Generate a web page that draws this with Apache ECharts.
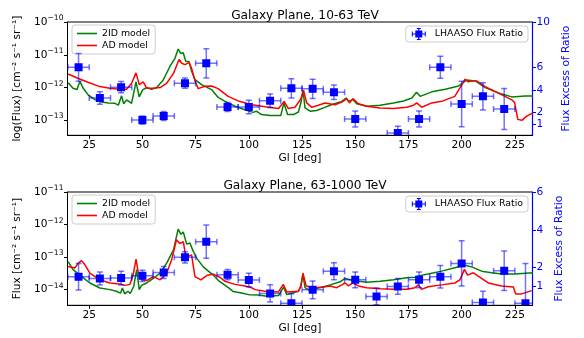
<!DOCTYPE html>
<html><head><meta charset="utf-8">
<script src="https://cdn.jsdelivr.net/npm/echarts@6/dist/echarts.min.js"></script>
<style>html,body{margin:0;padding:0;background:#fff}#c{width:584px;height:338px}</style>
</head><body><div id="c"></div>
<script>
// ---------- data ----------
const xTicks = [25, 50, 75, 100, 125, 150, 175, 200, 225];

// Top panel (10-63 TeV) models
const top2IDx = [15.1,17.4,19.3,20.6,22.2,24.5,27.7,30.8,34,37.1,38.7,40.2,41.2,42.6,44.9,47,48.5,50.1,52,54.3,56.7,59.8,62.9,65.3,66.8,68,69.2,70.4,71.9,73.1,74.7,77.8,82.5,85.6,88.8,93.5,98.2,102,103.5,106,110,115,116.5,118.2,121,123.3,124.5,125.5,126.4,128.8,131.9,135.1,138.2,141.3,143.7,145.7,146.8,148.9,150.7,155.4,161.7,168,172.7,176.6,178.8,180.5,186,192.3,198.6,202.5,206.4,211.1,217.3,223.6,229.9,233.5];
const top2IDy = [1.4e-12,9.5e-13,8.7e-13,1.55e-12,9.5e-13,6.0e-13,4.3e-13,3.6e-13,3.4e-13,3.3e-13,2.9e-13,5.6e-13,3.2e-13,4.2e-13,3.3e-13,1.5e-12,5.2e-13,8.5e-13,1.0e-12,8.9e-13,1.0e-12,1.7e-12,4.4e-12,7.8e-12,1.5e-11,1.1e-11,1.15e-11,6.2e-12,6.2e-12,3.2e-12,1.75e-12,1.23e-12,8.7e-13,5.0e-13,3.8e-13,2.7e-13,2.1e-13,1.75e-13,1.9e-13,1.5e-13,1.4e-13,1.4e-13,3.4e-13,1.5e-13,1.5e-13,1.8e-13,3.5e-13,8.3e-13,2.4e-13,1.9e-13,2.0e-13,2.4e-13,2.9e-13,3.4e-13,3.8e-13,4.8e-13,3.8e-13,4.3e-13,3.2e-13,2.7e-13,2.9e-13,3.4e-13,3.9e-13,4.8e-13,7.2e-13,5.4e-13,7.4e-13,8.9e-13,1.12e-12,1.7e-12,1.6e-12,1.0e-12,6.8e-13,5.2e-13,5.5e-13,5.5e-13];
const topADx = [15.1,19.1,23.8,30,34.7,39.4,42.6,44.9,47,48.5,50.4,52,55.1,58.3,61.4,64.6,67.2,68.5,70,71.9,73.1,74.7,76.2,79.4,82.5,85.6,90.3,95.5,101.5,107.6,114,116.6,118.5,121.7,124.4,125.7,127.2,129.6,132.7,135.8,140.5,143.7,146,147.3,148.9,151.5,155.4,161.7,168,174.2,177.4,178.9,181.2,186,190.6,196.8,199.2,201.6,203.1,205.4,207,211.1,217.3,223.6,224.9,226.4,228.3,230.6,233.5];
const topADy = [2.6e-12,2.0e-12,1.5e-12,1.07e-12,9.5e-13,8.9e-13,8.9e-13,1.35e-12,2.8e-12,1.23e-12,1.5e-12,9.5e-13,9.5e-13,1.0e-12,1.35e-12,2.7e-12,7.2e-12,5.5e-12,5.0e-12,5.8e-12,3.9e-12,1.6e-12,9.3e-13,1.1e-12,1.12e-12,9.3e-13,5.4e-13,3.8e-13,3.0e-13,2.6e-13,2.3e-13,3.8e-13,2.3e-13,2.5e-13,4.4e-13,8.3e-13,3.4e-13,2.5e-13,2.9e-13,3.4e-13,3.0e-13,3.6e-13,4.6e-13,3.4e-13,4.6e-13,3.2e-13,2.7e-13,2.4e-13,2.3e-13,2.5e-13,2.9e-13,3.4e-13,2.5e-13,3.4e-13,3.8e-13,5.4e-13,9.8e-13,1.8e-12,1.5e-12,1.6e-12,1.6e-12,1.07e-12,6.8e-13,4.2e-13,3.5e-13,1.07e-13,1.0e-13,1.35e-13,1.7e-13];

// Bottom panel (63-1000 TeV) models
const bot2IDx = [15.1,17.4,20.6,25.3,30,34.7,37.8,39.7,40.6,41.7,43.2,44.3,45.9,47.3,48.5,49.6,52,55.1,58.3,61.4,64.6,66.8,68.1,69.2,70.8,72.3,73.9,75.5,78.6,81,83.3,85.7,90.4,92.7,96.6,100.5,104.5,108.4,114,116.3,117.8,123.3,124.4,125.4,126.4,128.8,133.5,138.2,142.9,145.2,149.2,155.4,161.7,168,174.2,178.1,179.2,184.3,190.6,196.8,201.5,204.7,209.4,214.1,218.8,225.1,233.5];
const bot2IDy = [7.2e-14,4.1e-14,2.8e-14,1.6e-14,1.12e-14,1.0e-14,8.9e-15,7.8e-15,1.12e-14,7.4e-15,8.9e-15,7.6e-15,1.26e-14,4.1e-14,1.0e-14,1.35e-14,1.6e-14,2.2e-14,3.2e-14,6.5e-14,1.66e-13,7.2e-13,5.0e-13,5.9e-13,2.5e-13,2.7e-13,1.5e-13,9.3e-14,5.0e-14,3.7e-14,2.8e-14,1.9e-14,1.15e-14,8.7e-15,7.9e-15,6.9e-15,6.8e-15,6.3e-15,6.6e-15,1.2e-14,7.1e-15,8.9e-15,1.26e-14,3.0e-14,1.15e-14,9.3e-15,1.15e-14,1.4e-14,1.74e-14,2.2e-14,1.9e-14,1.7e-14,1.8e-14,2.0e-14,2.3e-14,2.4e-14,2.6e-14,3.0e-14,3.7e-14,4.7e-14,5.6e-14,5.0e-14,3.7e-14,3.3e-14,3.0e-14,3.0e-14,3.3e-14];
const botADx = [15.1,18.2,19.9,21.4,23,25.3,30,34.7,39.4,41.7,44.1,45.6,47,48,49.6,52,55.1,58.3,61.4,63.7,66,67.6,69.2,70.2,71.5,73.1,74.7,77.5,80.2,83.3,86.4,88.8,93.5,98.2,101.3,102.9,107.6,113.9,116.2,117.8,123.3,124.5,125.5,126.9,130.4,135.1,138.2,141.3,143.7,145.2,146.8,148.9,151.5,155.4,161.7,168,174.2,178.1,179.7,181.2,184.3,190.6,196.8,199.2,201.3,202.8,205.5,207.1,212.5,218.8,224.3,225.4,228.2,232.9];
const botADy = [5.1e-14,4.6e-14,6.5e-14,7.8e-14,5.8e-14,3.2e-14,2.0e-14,1.6e-14,1.5e-14,1.35e-14,1.45e-14,2.75e-14,8.7e-14,3.5e-14,2.0e-14,1.9e-14,2.5e-14,2.0e-14,3.2e-14,8.1e-14,3.4e-13,2.6e-13,3.0e-13,1.26e-13,1.05e-13,1.17e-13,2.5e-14,2.0e-14,2.7e-14,3.0e-14,2.4e-14,1.8e-14,1.45e-14,1.3e-14,1.15e-14,1.0e-14,8.9e-15,8.5e-15,1.45e-14,8.5e-15,8.9e-15,1.3e-14,3.2e-14,1.3e-14,1.15e-14,1.2e-14,1.3e-14,1.15e-14,1.4e-14,1.6e-14,1.3e-14,1.6e-14,1.3e-14,1.15e-14,1.07e-14,1.02e-14,1.02e-14,1.15e-14,1.4e-14,1.02e-14,1.23e-14,1.4e-14,1.6e-14,2.0e-14,4.2e-14,2.8e-14,3.3e-14,2.8e-14,1.6e-14,1.3e-14,1.2e-14,7.4e-15,7.4e-15,9.3e-15];

// LHAASO flux ratio points (x, ratio, ratio error); x error is +-5 deg
const topPtX = [20,30,40,50,60,70,80,90,100,110,120,130,140,150,170,180,190,200,210,220];
const topPtV = [6.0,3.3,4.25,1.34,1.7,4.6,6.35,2.5,2.5,3.05,4.15,4.1,3.8,1.44,0.2,1.44,6.0,2.76,3.44,2.32];
const topPtE = [1.23,0.55,0.5,0.37,0.4,0.45,1.3,0.4,0.6,0.6,0.85,0.85,0.65,0.7,0.6,0.7,0.97,2.0,1.2,1.8];
const botPtX = [20,30,40,50,60,70,80,90,100,110,120,130,140,150,160,170,180,190,200,210,220,230];
const botPtV = [1.51,1.42,1.44,1.56,1.74,2.54,3.37,1.62,1.34,0.63,0.11,0.82,1.8,1.35,0.47,1.0,1.35,1.51,2.22,0.15,1.83,0.11];
const botPtE = [0.7,0.34,0.36,0.3,0.32,0.3,0.88,0.27,0.36,0.46,0.5,0.47,0.45,0.42,0.44,0.42,0.42,0.6,1.2,0.6,1.05,2.1];
const xErr = 5;

const topRatioTicks = [1, 2, 4, 6, 10];
const botRatioTicks = [1, 2, 4, 6];
const topFluxTicks = [1e-13, 1e-12, 1e-11, 1e-10];
const botFluxTicks = [1e-14, 1e-13, 1e-12, 1e-11];

// ---------- chart ----------
const FONT = 'DejaVu Sans';
const BLUE = '#0000ff';
const TICK_FS = 10.6;
const LEG_FS = 9.4;
const zip = (a, b) => a.map((v, i) => [v, b[i]]);
const zip3 = (a, b, c) => a.map((v, i) => [v, b[i], xErr, c[i]]);

function supLabel(v) {
  const e = Math.round(Math.log10(v));
  return '{a|10}{b|\u2212' + Math.abs(e) + '}';
}
const supRich = {
  a: { fontSize: TICK_FS, fontFamily: FONT, color: '#000' },
  b: { fontSize: 7.6, fontFamily: FONT, color: '#000', padding: [0, 0, 8, 0] }
};

function renderErr(params, api) {
  const x = api.value(0), y = api.value(1), xe = api.value(2), ye = api.value(3);
  const c = api.coord([x, y]);
  const l = api.coord([x - xe, y]), r = api.coord([x + xe, y]);
  const t = api.coord([x, y + ye]), b = api.coord([x, y - ye]);
  const cap = 3;
  const st = { stroke: 'rgba(0,0,255,0.55)', lineWidth: 1.5 };
  const L = (x1, y1, x2, y2) => ({ type: 'line', shape: { x1, y1, x2, y2 }, style: st });
  return {
    type: 'group',
    children: [
      L(l[0], c[1], r[0], c[1]),
      L(l[0], c[1] - cap, l[0], c[1] + cap),
      L(r[0], c[1] - cap, r[0], c[1] + cap),
      L(c[0], t[1], c[0], b[1]),
      L(c[0] - cap, t[1], c[0] + cap, t[1]),
      L(c[0] - cap, b[1], c[0] + cap, b[1]),
      { type: 'rect', shape: { x: c[0] - 4, y: c[1] - 4, width: 8, height: 8 }, style: { fill: BLUE } }
    ]
  };
}

const grids = [
  { left: 67.5, top: 22, width: 465, height: 113.3 },
  { left: 67.5, top: 192, width: 465, height: 113.3 }
];

function xAxis(i) {
  return {
    type: 'value', gridIndex: i, min: 14.8, max: 233.3,
    name: 'Gl [deg]', nameLocation: 'middle', nameGap: 17,
    nameTextStyle: { fontFamily: FONT, fontSize: TICK_FS, color: '#000' },
    axisLine: { show: true, lineStyle: { color: '#000', width: 1 } },
    axisTick: { show: true, length: 3.5, customValues: xTicks, lineStyle: { color: '#000' } },
    axisLabel: { customValues: xTicks, fontFamily: FONT, fontSize: TICK_FS, color: '#000', margin: 4 },
    splitLine: { show: false }
  };
}
function fluxAxis(i, min, max, ticks, name) {
  return {
    type: 'log', gridIndex: i, min, max, position: 'left',
    name, nameLocation: 'middle', nameGap: 42, nameRotate: 90,
    nameTextStyle: { fontFamily: FONT, fontSize: TICK_FS, color: '#000' },
    axisLine: { show: true, lineStyle: { color: '#000', width: 1 } },
    axisTick: { show: true, length: 3.5, customValues: ticks, lineStyle: { color: '#000' } },
    axisLabel: { customValues: ticks, formatter: supLabel, rich: supRich, margin: 4 },
    splitLine: { show: false }, minorTick: { show: false }
  };
}
function ratioAxis(i, max, ticks) {
  return {
    type: 'value', gridIndex: i, min: 0, max, position: 'right',
    name: 'Flux Excess of Ratio', nameLocation: 'middle', nameGap: 21, nameRotate: 90,
    nameTextStyle: { fontFamily: FONT, fontSize: TICK_FS, color: BLUE },
    axisLine: { show: true, lineStyle: { color: BLUE, width: 1.2 } },
    axisTick: { show: true, length: 3.5, customValues: ticks, lineStyle: { color: BLUE } },
    axisLabel: { customValues: ticks, fontFamily: FONT, fontSize: TICK_FS, color: BLUE, margin: 4 },
    splitLine: { show: false }
  };
}

const lineSeries = (name, xs, ys, color, xi, yi) => ({
  name, type: 'line', xAxisIndex: xi, yAxisIndex: yi, data: zip(xs, ys),
  symbol: 'none', lineStyle: { color, width: 1.5 }, itemStyle: { color }, z: 2
});
const errSeries = (xs, vs, es, xi, yi) => ({
  name: 'LHAASO Flux Ratio', type: 'custom', xAxisIndex: xi, yAxisIndex: yi,
  data: zip3(xs, vs, es), renderItem: renderErr, clip: true,
  itemStyle: { color: BLUE }, z: 5
});

const errIcon = 'path://M0,5.4h14v1.2h-14z M0,3.5h1v5h-1z M13,3.5h1v5h-1z M6.4,0h1.2v12h-1.2z M5,0h4v1h-4z M5,11h4v1h-4z M3.5,2.5h7v7h-7z';
const legendBase = {
  orient: 'vertical', backgroundColor: 'rgba(255,255,255,0.85)', borderColor: '#cccccc',
  borderWidth: 1, borderRadius: 3,
  textStyle: { fontFamily: FONT, fontSize: LEG_FS, color: '#000' }
};
const modelLegend = (top) => Object.assign({}, legendBase, {
  left: 72, top, padding: [4, 5, 4, 5], itemWidth: 20, itemHeight: 1.6, itemGap: 3,
  data: [{ name: '2ID model', icon: 'rect' }, { name: 'AD model', icon: 'rect' }]
});
const ptLegend = (top) => Object.assign({}, legendBase, {
  right: 56, top, padding: [2, 5, 2, 6], itemWidth: 14, itemHeight: 12,
  textStyle: { fontFamily: FONT, fontSize: LEG_FS, color: '#000', padding: [0, 0, 0, 4] },
  data: [{ name: 'LHAASO Flux Ratio', icon: errIcon }]
});

const option = {
  animation: false,
  backgroundColor: '#fff',
  title: [
    { text: 'Galaxy Plane, 10-63 TeV', left: 300, top: 5, textAlign: 'center',
      textStyle: { fontFamily: FONT, fontSize: 12.2, fontWeight: 'normal', color: '#000' } },
    { text: 'Galaxy Plane, 63-1000 TeV', left: 300, top: 175, textAlign: 'center',
      textStyle: { fontFamily: FONT, fontSize: 12.2, fontWeight: 'normal', color: '#000' } }
  ],
  grid: grids.map(g => Object.assign({ show: true, borderColor: '#000', borderWidth: 1, backgroundColor: 'transparent' }, g)),
  legend: [modelLegend(25), ptLegend(26), modelLegend(195), ptLegend(196)],
  xAxis: [xAxis(0), xAxis(1)],
  yAxis: [
    fluxAxis(0, 3.5e-14, 1e-10, topFluxTicks, 'log(Flux) [cm\u207B\u00B2 s\u207B\u00B9 sr\u207B\u00B9]'),
    ratioAxis(0, 10, topRatioTicks),
    fluxAxis(1, 3.3e-15, 1e-11, botFluxTicks, 'Flux [cm\u207B\u00B2 s\u207B\u00B9 sr\u207B\u00B9]'),
    ratioAxis(1, 6, botRatioTicks)
  ],
  series: [
    lineSeries('2ID model', top2IDx, top2IDy, '#008000', 0, 0),
    lineSeries('AD model', topADx, topADy, '#ff0000', 0, 0),
    errSeries(topPtX, topPtV, topPtE, 0, 1),
    lineSeries('2ID model', bot2IDx, bot2IDy, '#008000', 1, 2),
    lineSeries('AD model', botADx, botADy, '#ff0000', 1, 2),
    errSeries(botPtX, botPtV, botPtE, 1, 3)
  ]
};
const chart = echarts.init(document.getElementById('c'), null, { renderer: 'canvas' });
chart.setOption(option);
</script></body></html>
